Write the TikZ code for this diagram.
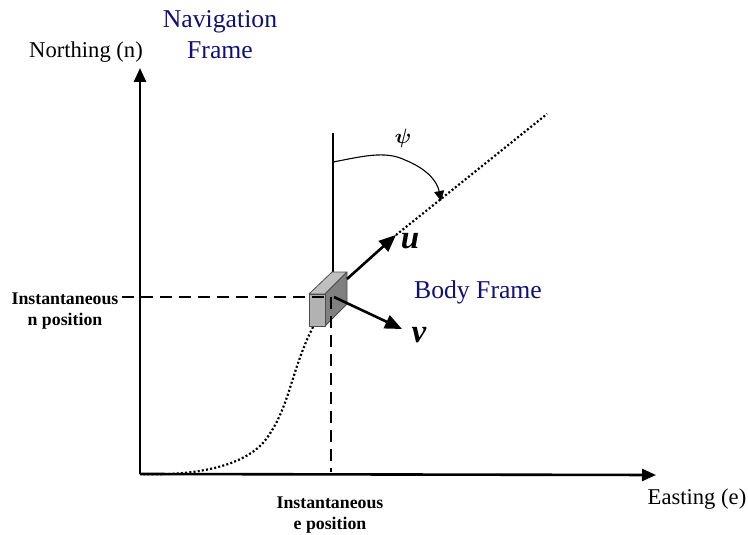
\documentclass[tikz,border=0pt]{standalone}
\usepackage{fontspec}
\setmainfont{Liberation Serif}
\usetikzlibrary{arrows.meta}
\definecolor{NavyText}{RGB}{16,16,120}
\tikzset{
AxisStyle/.style  ={line width=2.6pt, -{Triangle[length=14pt,width=12pt]}},
BodyAxisStyle/.style ={line width=2.6pt, -{Triangle[length=17pt,width=14pt]}},
GuideStyle/.style ={line width=2pt, dash pattern=on 12pt off 7pt},
PathStyle/.style  ={line width=2.2pt, dash pattern=on 2pt off 2.2pt},
FaceStyle/.style  ={draw=black!70, line width=0.8pt, line join=round},
BlackLabel/.style ={inner sep=0pt, align=center, font=\fontsize{22.6}{31}\selectfont},
BlueLabel/.style  ={inner sep=0pt, align=center, text=NavyText, font=\fontsize{25.7}{31}\selectfont},
BoldLabel/.style  ={inner sep=0pt, align=center, font=\fontsize{17.8}{21}\selectfont\bfseries},
AxisLetter/.style ={inner sep=0pt, font=\fontsize{33}{33}\selectfont\bfseries\itshape},
}
\begin{document}
\begin{tikzpicture}[x=1pt,y=-1pt]
\useasboundingbox (0,0) rectangle (748,535);
\coordinate (O) at (140,474);
\coordinate (N) at (140,68);
\coordinate (E) at (656,475);
\coordinate (CE) at (331,472);
\coordinate (CN) at (122,297);
\coordinate (C) at (331,297);
\coordinate (HeadTop) at (333,133);
\coordinate (HeadBase) at (333,272);
\coordinate (ArcA) at (333,162);
\coordinate (ArcB) at (441,201);
\coordinate (TrackA) at (396,235);
\coordinate (TrackB) at (547,114);
\coordinate (TrackC) at (313,327);
\coordinate (UA) at (347,279);
\coordinate (UB) at (396,235);
\coordinate (VA) at (334,297);
\coordinate (VB) at (402,329);

\begin{scope}[PathStyle]
\draw (TrackC) .. controls (290,372) and (290,410) .. (263,443)
  .. controls (240,468) and (190,476) .. (O);
\draw (TrackA) -- (TrackB);
\end{scope}

\draw[AxisStyle] (O) -- (N);
\draw[AxisStyle] (O) -- (E);
\draw[line width=1.1pt] (HeadTop) -- (HeadBase);
\draw[line width=1.1pt, -{Triangle[length=10pt,width=10pt]}] (ArcA) .. controls (360,157) and (385,150) .. (405,160)
  .. controls (425,168) and (437,180) .. (ArcB);

% box
\filldraw[FaceStyle, fill=black!25] (309,294) -- (332,272) -- (347,272) -- (325,294) -- cycle;
\filldraw[FaceStyle, fill=black!50] (325,294) -- (347,272) -- (347,304) -- (325,326) -- cycle;
\filldraw[FaceStyle, fill=black!30] (309,294) rectangle (325,326);

\begin{scope}[GuideStyle]
\draw (CN) -- (C);
\draw (C) -- (CE);
\end{scope}
\draw[BodyAxisStyle] (UA) -- (UB);
\draw[BodyAxisStyle] (VA) -- (VB);

\node[BlackLabel] (NorthLabel) at (86,52) {Northing (n)};
\node[BlackLabel] (EastLabel) at (697,499) {Easting (e)};
\node[BlueLabel] (NavLabel) at (220,35) {Navigation\\Frame};
\node[BlueLabel] (BodyLabel) at (478,292) {Body Frame};
\node[BoldLabel] (NPosLabel) at (65,311) {Instantaneous\\n position};
\node[BoldLabel] (EPosLabel) at (330,515) {Instantaneous\\e position};
\node[AxisLetter] (ULabel) at (410,241) {u};
\node[AxisLetter] (VLabel) at (419,335) {v};
\node[inner sep=0pt, font=\fontsize{22}{22}\selectfont\boldmath] (PsiLabel) at (403,138) {$\psi$};
\end{tikzpicture}
\end{document}
